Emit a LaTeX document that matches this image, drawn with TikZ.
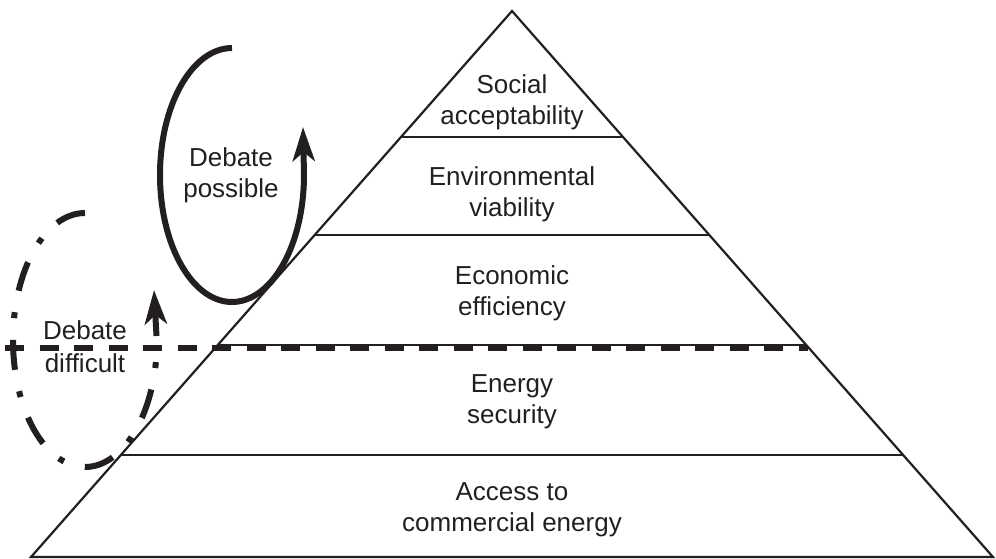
\documentclass[tikz,border=0pt]{standalone}
\usepackage{fontspec}
\setmainfont{Liberation Sans}
\usetikzlibrary{arrows.meta,calc}
\definecolor{ink}{RGB}{35,31,32}
\begin{document}
\begin{tikzpicture}[x=1pt,y=-1pt,
  lbl/.style={font=\fontsize{26}{31}\selectfont, text=ink, align=center, inner sep=0pt},
  edgeline/.style={draw=ink, line width=2.2pt, line join=miter},
  loopline/.style={draw=ink, line width=6pt},
  bigtip/.style={-{Stealth[length=34pt,width=22pt,inset=9pt]}},
  debdash/.style={draw=ink, line width=6pt, dash pattern=on 19pt off 15.5pt},
  dashdotloop/.style={draw=ink, line width=6pt, dash pattern=on 30pt off 21.8pt on 6pt off 21.8pt}]
\useasboundingbox (0,0) rectangle (996,558);
% pyramid
\coordinate (apex) at (512,11);
\coordinate (bl) at (31,557);
\coordinate (br) at (993,557);
\coordinate (l1) at ($(apex)!0.23077!(bl)$);
\coordinate (r1) at ($(apex)!0.23077!(br)$);
\coordinate (l2) at ($(apex)!0.41026!(bl)$);
\coordinate (r2) at ($(apex)!0.41026!(br)$);
\coordinate (l3) at ($(apex)!0.61172!(bl)$);
\coordinate (r3) at ($(apex)!0.61172!(br)$);
\coordinate (l4) at ($(apex)!0.81319!(bl)$);
\coordinate (r4) at ($(apex)!0.81319!(br)$);
\draw[edgeline] (bl) -- (apex) -- (br) -- cycle;
\draw[edgeline] (l1) -- (r1);
\draw[edgeline] (l2) -- (r2);
\draw[edgeline] (l3) -- (r3);
\draw[edgeline] (l4) -- (r4);
% dashed boundary line
\coordinate (dstart) at (5,347.5);
\coordinate (dend) at (808,347.5);
\draw[debdash] (dstart) -- (dend);
% labels
\node[lbl] (social) at (512,102.3) {\strut Social\\\strut acceptability};
\node[lbl] (env) at (512,194.3) {\strut Environmental\\\strut viability};
\node[lbl] (econ) at (512,293.3) {\strut Economic\\\strut efficiency};
\node[lbl] (sec) at (512,401.3) {\strut Energy\\\strut security};
\node[lbl] (access) at (512,509.3) {\strut Access to\\\strut commercial energy};
\node[lbl] (possible) at (231,175.3) {\strut Debate\\\strut possible};
\node[lbl] (difficult) at (85,349.8) {\strut Debate\\[2pt]\strut difficult};
% solid loop (debate possible)
\coordinate (ptop) at (232,48);
\coordinate (ptip) at (303,127);
\draw[loopline, bigtip] (ptop) arc[start angle=270, end angle=-4, x radius=72, y radius=127] -- (ptip);
% dash-dot loop (debate difficult)
\coordinate (dtop) at (85,213);
\draw[dashdotloop] (dtop) arc[start angle=270, end angle=10, x radius=72, y radius=127];
\coordinate (dshaft) at (156.5,336);
\coordinate (dtip) at (154,290);
\draw[loopline, bigtip] (dshaft) -- (dtip);
\end{tikzpicture}
\end{document}
